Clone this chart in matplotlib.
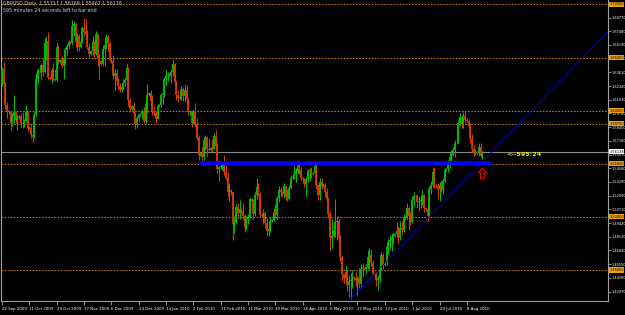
import numpy as np
import matplotlib
matplotlib.use('Agg')
import matplotlib.pyplot as plt
import matplotlib.transforms as mtransforms
from matplotlib.path import Path

# GBPUSD daily bars, 22 Sep 2009 .. 18 Aug 2010 (broker has Sunday bars)
# prices in 1/10000, open of each bar = previous close
first_open = 16250
highs = [
    16410, 16460, 16270, 16080, 16010, 16010, 15980, 16150, 16000, 15960,
    15960, 15980, 15990, 15920, 16050, 16000, 15860, 15880, 15900, 15990,
    16350, 16400, 16400, 16450, 16490, 16680, 16700, 16740, 16330, 16400,
    16450, 16390, 16640, 16620, 16490, 16520, 16520, 16600, 16630, 16670,
    16660, 16850, 16840, 16830, 16730, 16720, 16670, 16800, 16877, 16860,
    16760, 16640, 16570, 16700, 16660, 16750, 16720, 16530, 16480, 16620,
    16650, 16720, 16710, 16660, 16490, 16520, 16390, 16390, 16310, 16260,
    16230, 16300, 16320, 16440, 16410, 16120, 16050, 16080, 15990, 15950,
    15980, 15980, 16020, 16030, 16100, 16250, 16180, 16190, 16150, 16040,
    16000, 16060, 16060, 16170, 16190, 16320, 16380, 16360, 16350, 16380,
    16480, 16450, 16290, 16190, 16140, 16230, 16220, 16250, 16240, 16120,
    16010, 16000, 16020, 16070, 15930, 15770, 15610, 15660, 15750, 15770,
    15760, 15740, 15660, 15730, 15790, 15820, 15700, 15480, 15490, 15500,
    15580, 15490, 15420, 15320, 15260, 15240, 15010, 15120, 15130, 15160,
    15080, 15130, 15030, 15010, 15030, 15190, 15180, 15170, 15230, 15370,
    15320, 15230, 15030, 15070, 15060, 15000, 14950, 15000, 14980, 15080,
    15120, 15200, 15290, 15280, 15240, 15320, 15290, 15260, 15300, 15390,
    15390, 15480, 15460, 15520, 15530, 15470, 15380, 15370, 15380, 15450,
    15460, 15470, 15420, 15510, 15500, 15300, 15370, 15370, 15320, 15320,
    15270, 15190, 15060, 14980, 14900, 15170, 15010, 14980, 14830, 14640,
    14460, 14540, 14500, 14450, 14470, 14500, 14440, 14480, 14440, 14520,
    14560, 14570, 14530, 14560, 14690, 14710, 14700, 14590, 14470, 14490,
    14450, 14560, 14670, 14660, 14580, 14750, 14790, 14830, 14850, 14850,
    14850, 14950, 14910, 14960, 14960, 15030, 15010, 15130, 15090, 15050,
    15200, 15230, 15210, 15220, 15200, 15200, 15250, 15220, 15090, 15120,
    15290, 15340, 15460, 15470, 15310, 15320, 15330, 15350, 15370, 15460,
    15460, 15540, 15600, 15630, 15660, 15720, 15720, 15910, 15980, 15960,
    15990, 16000, 15930, 15920, 15880, 15780, 15680, 15640, 15620, 15700,
    15700, 15617,
]
lows = [
    16230, 16220, 16020, 15930, 15970, 15820, 15860, 15880, 15880, 15820,
    15920, 15850, 15840, 15850, 15890, 15810, 15830, 15740, 15707, 15740,
    15950, 16250, 16360, 16300, 16330, 16350, 16480, 16300, 16290, 16260,
    16280, 16280, 16280, 16440, 16450, 16400, 16300, 16440, 16520, 16580,
    16630, 16620, 16700, 16600, 16560, 16560, 16590, 16640, 16700, 16700,
    16580, 16510, 16520, 16520, 16500, 16520, 16420, 16300, 16430, 16420,
    16420, 16580, 16560, 16460, 16450, 16300, 16190, 16240, 16200, 16180,
    16180, 16200, 16230, 16260, 16040, 15990, 16010, 15950, 15830, 15840,
    15900, 15950, 15920, 15880, 15870, 15980, 16140, 16050, 15960, 15950,
    15880, 15920, 16030, 16030, 16060, 16130, 16230, 16280, 16320, 16260,
    16330, 16240, 16100, 16080, 16110, 16100, 16090, 16080, 16070, 15960,
    15960, 15850, 15870, 15850, 15720, 15540, 15570, 15530, 15540, 15630,
    15560, 15620, 15620, 15610, 15630, 15650, 15410, 15340, 15450, 15440,
    15390, 15350, 15190, 15150, 15210, 14780, 14850, 14930, 14980, 14980,
    15040, 14980, 14860, 14880, 14930, 14990, 15140, 14980, 15010, 15170,
    15200, 15000, 15000, 14930, 14900, 14820, 14820, 14860, 14950, 14960,
    14990, 14980, 15140, 15190, 15200, 15180, 15160, 15150, 15160, 15260,
    15360, 15360, 15330, 15410, 15400, 15350, 15330, 15280, 15190, 15330,
    15340, 15370, 15390, 15380, 15260, 15160, 15160, 15260, 15280, 15190,
    15140, 14990, 14680, 14700, 14810, 14810, 14780, 14750, 14580, 14400,
    14380, 14390, 14300, 14250, 14230, 14330, 14400, 14350, 14260, 14330,
    14330, 14440, 14500, 14460, 14510, 14510, 14540, 14450, 14430, 14350,
    14310, 14390, 14500, 14510, 14540, 14550, 14650, 14700, 14680, 14740,
    14810, 14810, 14740, 14780, 14830, 14860, 14980, 14980, 14880, 14920,
    14940, 15100, 15180, 15080, 15060, 15080, 15110, 15050, 15060, 14960,
    15000, 15220, 15280, 15270, 15280, 15170, 15150, 15230, 15220, 15330,
    15430, 15420, 15460, 15530, 15570, 15560, 15690, 15700, 15860, 15840,
    15840, 15880, 15890, 15820, 15700, 15610, 15570, 15580, 15590, 15570,
    15560, 15547,
]
closes = [
    16390, 16250, 16050, 15990, 15990, 15880, 15950, 15990, 15910, 15940,
    15950, 15880, 15870, 15900, 15990, 15840, 15840, 15770, 15750, 15960,
    16300, 16380, 16380, 16430, 16360, 16640, 16660, 16310, 16300, 16380,
    16300, 16290, 16600, 16460, 16480, 16420, 16500, 16570, 16610, 16650,
    16640, 16800, 16820, 16650, 16700, 16600, 16650, 16780, 16740, 16720,
    16600, 16530, 16560, 16650, 16530, 16720, 16490, 16470, 16440, 16580,
    16620, 16690, 16640, 16480, 16470, 16330, 16350, 16280, 16230, 16190,
    16220, 16260, 16290, 16400, 16100, 16020, 16040, 15980, 15870, 15930,
    15960, 15970, 16000, 15900, 16060, 16150, 16170, 16090, 16000, 15980,
    15920, 16040, 16050, 16150, 16160, 16300, 16330, 16340, 16330, 16360,
    16440, 16270, 16150, 16120, 16130, 16200, 16140, 16190, 16110, 15990,
    16000, 15880, 15990, 15870, 15740, 15580, 15600, 15560, 15720, 15750,
    15640, 15630, 15650, 15640, 15760, 15670, 15450, 15465, 15480, 15490,
    15420, 15370, 15230, 15250, 15230, 14930, 14950, 15090, 15040, 15070,
    15060, 15010, 14900, 14980, 15000, 15170, 15150, 15030, 15210, 15280,
    15220, 15020, 15010, 15040, 14940, 14870, 14890, 14960, 14970, 15050,
    15020, 15180, 15250, 15230, 15220, 15290, 15190, 15170, 15270, 15370,
    15380, 15400, 15430, 15480, 15440, 15370, 15360, 15310, 15360, 15430,
    15440, 15400, 15410, 15480, 15300, 15210, 15330, 15290, 15300, 15230,
    15170, 15030, 14800, 14820, 14870, 14950, 14960, 14800, 14620, 14460,
    14420, 14480, 14360, 14400, 14410, 14430, 14420, 14410, 14420, 14370,
    14510, 14520, 14510, 14530, 14620, 14640, 14570, 14460, 14450, 14410,
    14420, 14530, 14640, 14550, 14570, 14720, 14760, 14780, 14810, 14820,
    14840, 14870, 14800, 14900, 14880, 14990, 15000, 15080, 15010, 14950,
    15160, 15200, 15190, 15140, 15150, 15160, 15210, 15080, 15070, 15010,
    15260, 15300, 15420, 15300, 15290, 15260, 15300, 15250, 15340, 15440,
    15450, 15510, 15560, 15580, 15630, 15700, 15700, 15880, 15940, 15870,
    15950, 15910, 15900, 15860, 15730, 15640, 15600, 15610, 15600, 15660,
    15574, 15614,
]

date_bars = [0, 16, 32, 48, 64, 80, 96, 112, 128, 144, 160, 176, 192, 208,
             224, 240, 256, 272]
date_labels = ['22 Sep 2009', '11 Oct 2009', '29 Oct 2009', '17 Nov 2009',
               '6 Dec 2009', '24 Dec 2009', '14 Jan 2010', '2 Feb 2010',
               '21 Feb 2010', '11 Mar 2010', '30 Mar 2010', '18 Apr 2010',
               '6 May 2010', '25 May 2010', '13 Jun 2010', '1 Jul 2010',
               '20 Jul 2010', '8 Aug 2010']
price_ticks = [1.68770, 1.67480, 1.66190, 1.64900, 1.63610, 1.62320, 1.61030,
               1.59740, 1.58450, 1.57160, 1.55870, 1.54580, 1.53290, 1.52000,
               1.50710, 1.49420, 1.48130, 1.46840, 1.45550, 1.44260, 1.42970]
levels = [1.70, 1.65, 1.60, 1.5875, 1.55, 1.50, 1.45]

support_price = 1.5505
support_bars = [116, 286]
trend_bars = [204, 354]
trend_prices = [1.4230, 1.6738]
arrow_bar, arrow_price = 281, 1.5413
timer_text = '<--595:24'
title_lines = ['GBPUSD,Daily  1.55737 1.56169 1.55467 1.56138',
               '595 minutes 24 seconds left to bar end']
last_label = 1.56138

highs = np.array(highs) / 1e4
lows = np.array(lows) / 1e4
closes = np.array(closes) / 1e4
opens = np.concatenate([[first_open / 1e4], closes[:-1]])
bars = np.arange(len(closes))

small = ['DejaVu Sans Condensed', 'Liberation Sans Narrow', 'DejaVu Sans']
fs = 2.8
fs_axis = 2.5
fig = plt.figure(figsize=(6.25, 3.15), dpi=100, facecolor='black')
ax = fig.add_axes([1 / 625, 14 / 315, 607 / 625, 301 / 315])
ax.set_facecolor('black')
ax.set_xlim(-0.6, 354.6)
ax.set_ylim(1.4208, 1.7042)

# level lines
for lv in levels:
    ax.axhline(lv, color='#c88000', lw=0.7, ls=(0, (1.6, 1.6)), zorder=1)
ax.axhline(closes[-1], color='#8c8c8c', lw=0.8, zorder=1)

# candles
up = closes >= opens
cols = np.where(up, '#00c000', '#d83c00')
ax.vlines(bars, lows, highs, colors=cols, lw=0.7, zorder=3)
ax.vlines(bars, np.minimum(opens, closes), np.maximum(opens, closes),
          colors=cols, lw=1.3, zorder=3)

# support and trendline
ax.hlines(support_price, support_bars[0], support_bars[1], color='#0000ff',
          lw=2.8, zorder=4)
ax.plot(trend_bars, trend_prices, color='#0000c8', lw=0.7, zorder=4)

arrow = Path([(0, 1), (-0.8, 0.1), (-0.35, 0.1), (-0.35, -1), (0.35, -1),
              (0.35, 0.1), (0.8, 0.1), (0, 1)])
ax.plot([arrow_bar], [arrow_price], marker=arrow, ms=7.5, mfc='black',
        mec='#ff0000', mew=0.8, zorder=5)
ax.text(295, 1.5590, timer_text, color='#e8e800', fontsize=4.6,
        fontweight='bold', va='center', ha='left', zorder=5)

for i, line in enumerate(title_lines):
    fig.text(3 / 625, 1 - (1 + i * 6.5) / 315, line, color='#d0d0d0',
             fontsize=3.4, family=small, va='top', ha='left')

# axes
for s in ['left', 'bottom', 'right']:
    ax.spines[s].set_color('#a0a0a0')
    ax.spines[s].set_linewidth(0.8)
ax.spines['top'].set_visible(False)

ax.yaxis.tick_right()
ax.set_yticks(price_ticks)
ax.set_yticklabels(['%.5f' % p for p in price_ticks], family=small)
ax.tick_params(axis='y', colors='#a0a0a0', labelcolor='white',
               labelsize=fs_axis, length=2, width=0.6, pad=0.4)
ax.set_xticks(date_bars)
ax.set_xticklabels(date_labels, family=small)
for lbl in ax.get_xticklabels():
    lbl.set_ha('left')
ax.tick_params(axis='x', colors='#a0a0a0', labelcolor='white', labelsize=fs,
               length=3, width=0.6, pad=1.5)

trans = mtransforms.blended_transform_factory(ax.transAxes, ax.transData)
for lv in levels:
    ax.text(1.002, lv, '%.5f' % lv, transform=trans, fontsize=fs_axis,
            family=small, color='black', va='center', ha='left',
            clip_on=False, zorder=6,
            bbox=dict(boxstyle='square,pad=0.15', fc='#f0a000', ec='none'))
ax.text(1.002, closes[-1], '%.5f' % last_label, transform=trans,
        fontsize=fs_axis, family=small, color='black', va='center',
        ha='left', clip_on=False, zorder=6,
        bbox=dict(boxstyle='square,pad=0.15', fc='white', ec='none'))

fig.savefig('out.png', dpi=100, facecolor='black')
